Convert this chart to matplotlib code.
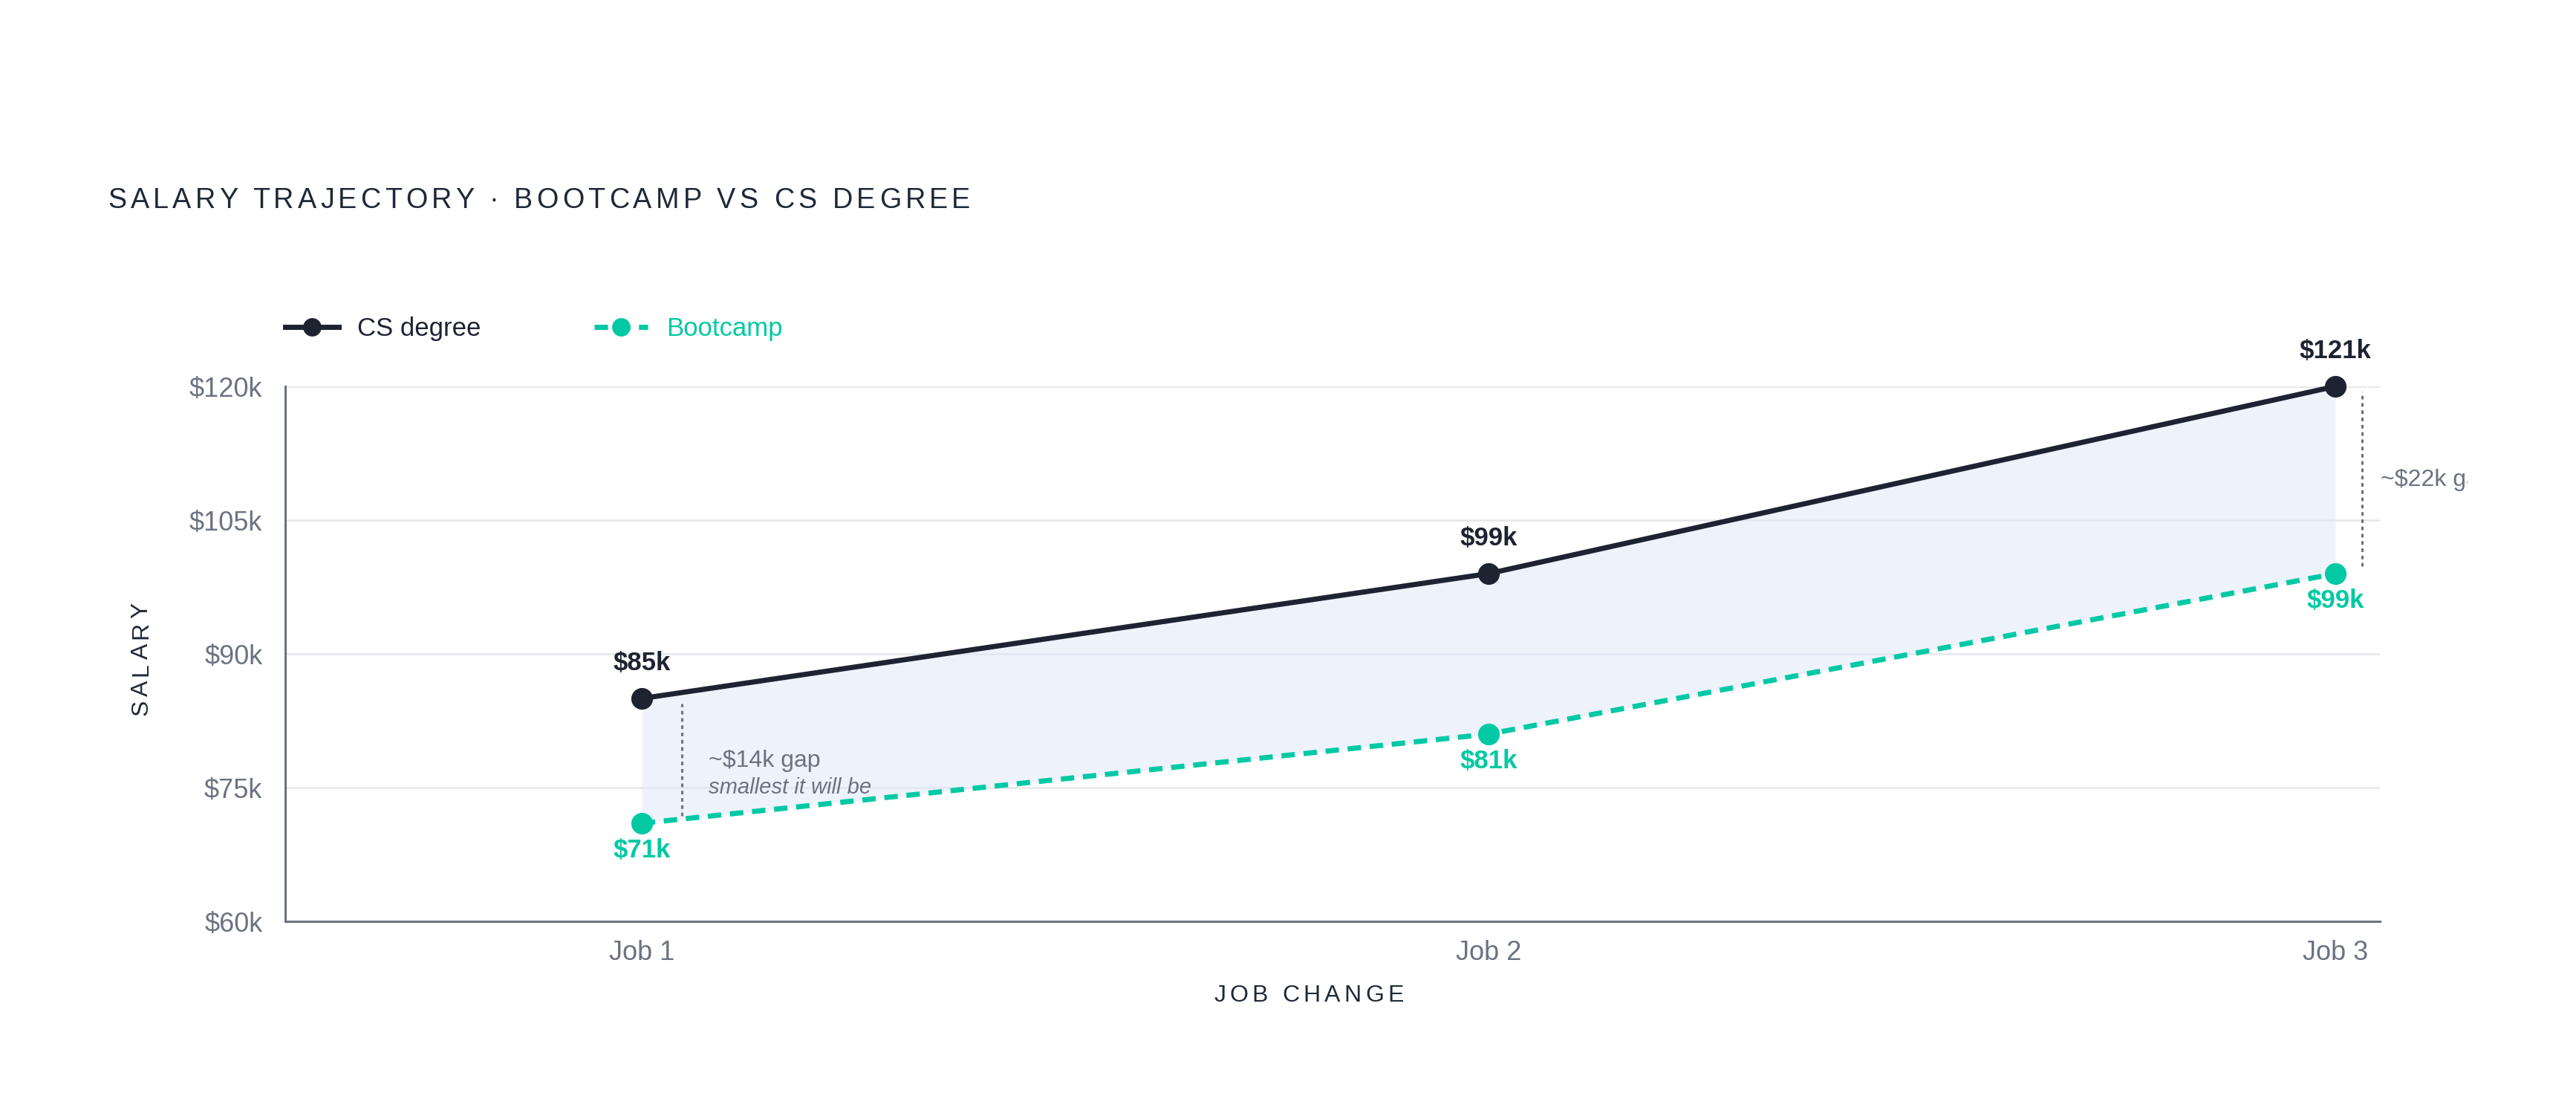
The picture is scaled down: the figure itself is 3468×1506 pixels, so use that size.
import numpy as np
import matplotlib.pyplot as plt
from matplotlib.font_manager import FontProperties
from matplotlib import transforms

plt.rcParams['font.family'] = ['Liberation Sans', 'DejaVu Sans']

# salaries in $k
jobs = ['Job 1', 'Job 2', 'Job 3']
cs_degree = [85, 99, 121]
bootcamp = [71, 81, 99]
y_ticks = [60, 75, 90, 105, 120]

title = 'SALARY TRAJECTORY · BOOTCAMP VS CS DEGREE'
x_title = 'JOB CHANGE'
y_title = 'SALARY'

NAVY = '#1e2332'
TEAL = '#00c9a4'
GRAY = '#6b7280'
GRID = '#e5e7eb'
INK = '#1f2937'

W, H = 3468, 1506
DPI = 200
fig = plt.figure(figsize=(W / DPI, H / DPI), dpi=DPI)
ax = fig.add_axes([384 / W, 1 - 1240 / H, (3204 - 384) / W, 720 / H])

x = np.arange(len(jobs))
ymin, ymax = y_ticks[0], y_ticks[-1]
cs_plot = np.clip(cs_degree, ymin, ymax)  # scale is clamped to the axis
bc_plot = np.clip(bootcamp, ymin, ymax)

ax.set_xlim(-0.421, 2.0526)
ax.set_ylim(ymin, ymax)
ax.set_yticks(y_ticks)
ax.set_yticklabels([f'${v}k' for v in y_ticks])
ax.set_xticks(x)
ax.set_xticklabels(jobs)
ax.tick_params(length=0, labelsize=13, labelcolor=GRAY)
ax.tick_params(axis='y', pad=11)
ax.tick_params(axis='x', pad=9)
for s in ['top', 'right']:
    ax.spines[s].set_visible(False)
for s in ['left', 'bottom']:
    ax.spines[s].set_color(GRAY)
    ax.spines[s].set_linewidth(1.1)
ax.grid(axis='y', color=GRID, lw=0.9)
ax.set_axisbelow(True)

# gap band
ax.fill_between(x, bc_plot, cs_plot, color='#dfe7f9', alpha=0.5, lw=0, zorder=1)

ax.plot(x, cs_plot, color=NAVY, lw=2.5, marker='o', ms=10.5, mew=0,
        label='CS degree', zorder=4, clip_on=False)
ax.plot(x, bc_plot, color=TEAL, lw=2.5, ls=(0, (2.6, 1.7)), marker='o', ms=10.5,
        mew=0, label='Bootcamp', zorder=4, clip_on=False)

# value labels
for xi, v, vp in zip(x, cs_degree, cs_plot):
    ax.annotate(f'${v}k', (xi, vp), xytext=(0, 17), textcoords='offset points',
                ha='center', va='center', fontsize=12.5, fontweight='bold', color=NAVY)
for xi, v, vp in zip(x, bootcamp, bc_plot):
    ax.annotate(f'${v}k', (xi, vp), xytext=(0, -13), textcoords='offset points',
                ha='center', va='center', fontsize=12.5, fontweight='bold', color=TEAL)

# gap callouts at first and last job
clip = transforms.TransformedBbox(transforms.Bbox([[0, 0], [3322 / W, 1]]), fig.transFigure)
notes = {0: ('smallest it will be', 19.4, 32.4), 2: (None, 13.0, 22.0)}
for i, (sub, line_dx, text_dx) in notes.items():
    gap = cs_degree[i] - bootcamp[i]
    tr_line = transforms.offset_copy(ax.transData, fig, x=line_dx, y=0, units='points')
    ax.plot([x[i], x[i]], [bc_plot[i] + 0.85, cs_plot[i] - 0.6], color=GRAY, lw=1.1,
            ls=(0, (1.6, 1.6)), transform=tr_line, zorder=3, clip_on=False)
    mid = (bc_plot[i] + cs_plot[i]) / 2
    tr_txt = transforms.offset_copy(ax.transData, fig, x=text_dx, y=0, units='points')
    t = fig.text(x[i], mid, f'~${gap}k gap', transform=tr_txt, ha='left', va='center',
                 fontsize=11.5, color=GRAY)
    t.set_clip_box(clip)
    t.set_clip_on(True)
    if sub:
        tr_sub = transforms.offset_copy(ax.transData, fig, x=text_dx, y=-13, units='points')
        fig.text(x[i], mid, sub, transform=tr_sub, ha='left', va='center', fontsize=10.5,
                 style='italic', color=GRAY)

leg = ax.legend(loc='center left', bbox_to_anchor=(0, 1.108), ncol=2, frameon=False,
                fontsize=12.5, handlelength=2.07, handletextpad=0.72, columnspacing=4.4,
                borderpad=0, borderaxespad=0, markerscale=0.85, labelcolor='linecolor')

# letter-spaced labels
renderer = fig.canvas.get_renderer()


def tracked(x_px, y_px, s, size, track_px=5.2, vertical=False, center=False, color=INK):
    prop = FontProperties(size=size)

    def width(t):
        return renderer.get_text_width_height_descent(t, prop, ismath=False)[0]

    adv = [0.0] + [width(s[:i] + '|') - width('|') for i in range(1, len(s))]
    pos = [a + i * track_px for i, a in enumerate(adv)]
    shift = -(pos[-1] + width(s[-1])) / 2 if center else 0
    for ch, p in zip(s, pos):
        if ch == ' ':
            continue
        if vertical:
            fig.text(x_px / W, 1 - (y_px - p - shift) / H, ch, rotation=90,
                     rotation_mode='anchor', ha='left', va='baseline', fontsize=size, color=color)
        else:
            fig.text((x_px + p + shift) / W, 1 - y_px / H, ch, ha='left', va='baseline',
                     fontsize=size, color=color)


tracked(145, 280, title, 13.6, track_px=5.3)
tracked(1762, 1348.5, x_title, 11.5, center=True)
tracked(198.5, 887, y_title, 11.5, vertical=True, center=True)

fig.savefig('out.png', dpi=DPI)
